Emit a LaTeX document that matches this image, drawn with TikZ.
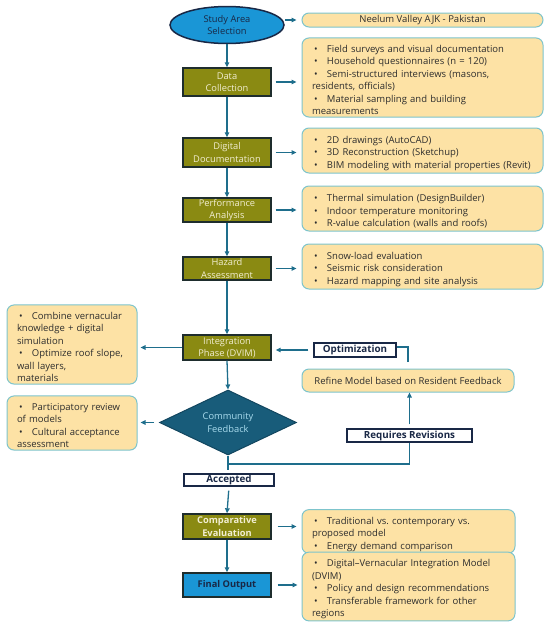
\documentclass[tikz,border=0pt]{standalone}
\usepackage{fontspec}
\setmainfont{Open Sans}
\frenchspacing
\usetikzlibrary{shapes.geometric,arrows.meta}
\definecolor{olivebox}{RGB}{138,138,18}
\definecolor{boxborder}{RGB}{30,45,45}
\definecolor{cream}{RGB}{242,238,210}
\definecolor{note}{RGB}{253,226,165}
\definecolor{noteborder}{RGB}{125,196,204}
\definecolor{flow}{RGB}{30,110,140}
\definecolor{skyblue}{RGB}{26,150,214}
\definecolor{navy}{RGB}{25,40,70}
\definecolor{diamondfill}{RGB}{24,92,122}
\definecolor{diamondline}{RGB}{18,70,95}
\definecolor{lightcyan}{RGB}{170,220,238}
\definecolor{bodytext}{RGB}{45,45,45}
\newcommand{\bitem}[1]{\par\hyphenpenalty=10000\hangindent=15pt\hangafter=1\noindent\makebox[15pt][l]{\hspace{2pt}\textbullet}#1}
\begin{document}
\begin{tikzpicture}[x=1pt,y=-1pt,
  txt/.style={font=\fontsize{9.5}{12.5}\selectfont},
  mtxt/.style={font=\fontsize{9.3}{12.3}\selectfont},
  mainbox/.style={mtxt,draw=boxborder,line width=1.4pt,fill=olivebox,text=cream,
    minimum width=88pt,align=center,inner sep=1pt},
  notebox/.style={txt,draw=noteborder,line width=1pt,fill=note,rounded corners=7pt,
    text=bodytext,align=left,inner xsep=10pt,inner ysep=2pt},
  tagbox/.style={draw=navy,line width=1.3pt,fill=white,text=navy,font=\fontsize{9.8}{12}\selectfont\bfseries,
    inner sep=0pt},
  arr/.style={draw=flow,line width=1.3pt,-{Triangle[length=5pt,width=4.5pt]}},
  ln/.style={draw=flow,line width=1.3pt}]
\useasboundingbox (0,0) rectangle (550,627);

% top
\node[mtxt,ellipse,draw=navy,line width=1.5pt,fill=skyblue,text=navy,align=center,
  minimum width=114pt,minimum height=37pt,inner sep=0pt] (sa) at (227,25) {Study Area\\Selection};
\node[notebox,align=center,minimum width=241pt,minimum height=14pt,inner sep=0pt] (sn) at (422.5,20) {Neelum Valley AJK - Pakistan};

\node[mainbox,minimum height=28pt] (dc) at (227,82) {Data\\Collection};
\node[notebox,text width=221pt,minimum height=79pt] (dcn) at (422.5,77.5) {%
\bitem{Field surveys and visual documentation}
\bitem{Household questionnaires (n = 120)}
\bitem{Semi-structured interviews (masons,\\residents, officials)}
\bitem{Material sampling and building\\measurements}};

\node[mainbox,minimum height=29pt] (dd) at (227,152.5) {Digital\\Documentation};
\node[notebox,text width=221pt,minimum height=45pt] (ddn) at (422.5,150.5) {%
\bitem{2D drawings (AutoCAD)}
\bitem{3D Reconstruction (Sketchup)}
\bitem{BIM modeling with material properties (Revit)}};

\node[mainbox,minimum height=24pt] (pa) at (227,210) {Performance\\Analysis};
\node[notebox,text width=221pt,minimum height=45pt] (pan) at (422.5,208.5) {%
\bitem{Thermal simulation (DesignBuilder)}
\bitem{Indoor temperature monitoring}
\bitem{R-value calculation (walls and roofs)}};

\node[mainbox,minimum height=23pt] (ha) at (227,268.5) {Hazard\\Assessment};
\node[notebox,text width=221pt,minimum height=45pt] (han) at (422.5,266.5) {%
\bitem{Snow-load evaluation}
\bitem{Seismic risk consideration}
\bitem{Hazard mapping and site analysis}};

% middle
\node[mainbox,minimum height=25pt] (ip) at (227,347.5) {Integration\\Phase (DVIM)};
\node[notebox,text width=110pt,minimum height=75pt] (ipn) at (72,344.5) {%
\bitem{Combine vernacular\\knowledge + digital\\simulation}
\bitem{Optimize roof slope,\\wall layers,\\materials}};
\node[tagbox,minimum width=82pt,minimum height=14pt] (opt) at (355,350) {Optimization};
\node[notebox,align=center,minimum width=212pt,minimum height=23pt,inner sep=0pt] (rf) at (408,380.5) {Refine Model based on Resident Feedback};

\node[mtxt,diamond,draw=diamondline,line width=1pt,fill=diamondfill,text=lightcyan,align=center,
  minimum width=137pt,minimum height=65pt,inner sep=0pt,aspect=2.1] (cf) at (228,422.5) {Community\\Feedback};
\node[notebox,text width=110pt,minimum height=50pt] (cfn) at (72,423) {%
\bitem{Participatory review\\of models}
\bitem{Cultural acceptance\\assessment}};
\node[tagbox,minimum width=125pt,minimum height=13pt] (rr) at (409.5,435.5) {Requires Revisions};
\node[tagbox,minimum width=90pt,minimum height=12pt] (acc) at (229,480) {Accepted};

% bottom
\node[mainbox,minimum height=25pt,font=\fontsize{9.3}{12.3}\selectfont\bfseries] (ce) at (227,526.5) {Comparative\\Evaluation};
\node[notebox,text width=193pt,minimum height=39pt] (cen) at (408.5,531.5) {%
\bitem{Traditional vs. contemporary vs.\\proposed model}
\bitem{Energy demand comparison}};
\node[mainbox,minimum height=24pt,fill=skyblue,text=navy,font=\fontsize{9.3}{12.3}\selectfont\bfseries] (fo) at (227,585) {Final Output};
\node[notebox,text width=193pt,minimum height=63pt] (fon) at (408.5,586.5) {%
\bitem{Digital--Vernacular Integration Model\\(DVIM)}
\bitem{Policy and design recommendations}
\bitem{Transferable framework for other\\regions}};

% coordinates
\coordinate (fbj) at (228,464);
\coordinate (fbe) at (228,470);
\coordinate (rfo) at (408,362);

% vertical flow
\draw[arr] (sa.south) -- (dc.north);
\draw[arr] (dc.south) -- (dd.north);
\draw[arr] (dd.south) -- (pa.north);
\draw[arr] (pa.south) -- (ha.north);
\draw[arr] (ha.south) -- (ip.north);
\draw[arr] (ip.south) -- (cf.north);
\draw[ln] (cf.south) -- (fbe);
\draw[ln] (fbj) -| (rr.south);
\draw[arr,shorten <=4pt] (rr.north) -- (rr.north |- rf.south);
\draw[ln] (rfo) |- ([yshift=3pt]opt.east);
\draw[arr,shorten <=5pt,shorten >=4pt] (opt.west) -- (opt.west -| ip.east);
\draw[arr,shorten <=4pt] (acc.south) -- (ce.north);
\draw[arr] (ce.south) -- (fo.north);

% side arrows
\draw[arr,shorten >=5pt] (sn.west -| sa.east) -- (sn.west);
\draw[arr,shorten <=4pt,shorten >=5pt] (dc.east) -- (dc.east -| dcn.west);
\draw[arr,shorten <=4pt,shorten >=5pt] (dd.east) -- (dd.east -| ddn.west);
\draw[arr,shorten <=4pt,shorten >=5pt] (pa.east) -- (pa.east -| pan.west);
\draw[arr,shorten <=4pt,shorten >=5pt] (ha.east) -- (ha.east -| han.west);
\draw[arr,shorten >=3pt] (ip.west) -- (ip.west -| ipn.east);
\draw[arr,shorten <=5pt,shorten >=3pt] (cf.west) -- (cf.west -| cfn.east);
\draw[arr,shorten <=6pt,shorten >=5pt] (ce.east) -- (ce.east -| cen.west);
\draw[arr,shorten <=6pt,shorten >=4pt] (fo.east) -- (fo.east -| fon.west);
\end{tikzpicture}
\end{document}
